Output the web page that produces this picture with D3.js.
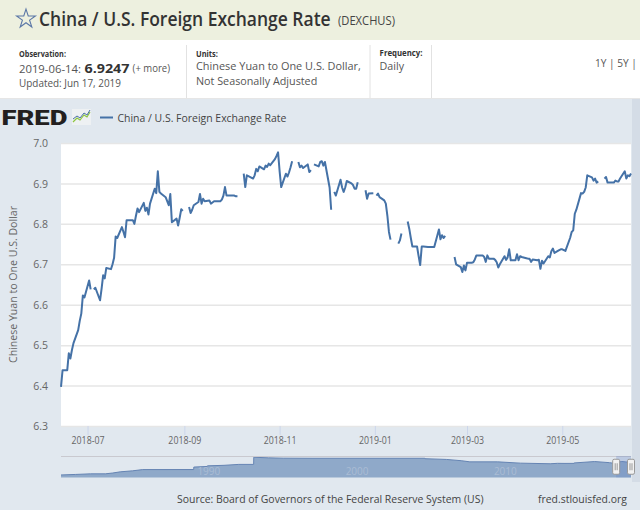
<!DOCTYPE html>
<html>
<head>
<meta charset="utf-8">
<script src="https://cdn.jsdelivr.net/npm/d3@7"></script>
<style>
  body { margin: 0; background: #fff; }
  svg { display: block; font-family: "Open Sans", sans-serif; }
</style>
</head>
<body>
<svg id="chart" width="640" height="510"></svg>
<script>
const obsDates = [
  '2018-06-14','2018-06-15','2018-06-18','2018-06-19','2018-06-20','2018-06-21','2018-06-22','2018-06-25','2018-06-26','2018-06-27','2018-06-28','2018-06-29',
  '2018-07-02','2018-07-03','2018-07-04','2018-07-05','2018-07-06','2018-07-09','2018-07-10','2018-07-11','2018-07-12','2018-07-13','2018-07-16','2018-07-17',
  '2018-07-18','2018-07-19','2018-07-20','2018-07-23','2018-07-24','2018-07-25','2018-07-26','2018-07-27','2018-07-30','2018-07-31',
  '2018-08-01','2018-08-02','2018-08-03','2018-08-06','2018-08-07','2018-08-08','2018-08-09','2018-08-10','2018-08-13','2018-08-14','2018-08-15','2018-08-16',
  '2018-08-17','2018-08-20','2018-08-21','2018-08-22','2018-08-23','2018-08-24','2018-08-27','2018-08-28','2018-08-29','2018-08-30','2018-08-31',
  '2018-09-03','2018-09-04','2018-09-05','2018-09-06','2018-09-07','2018-09-10','2018-09-11','2018-09-12','2018-09-13','2018-09-14','2018-09-17','2018-09-18',
  '2018-09-19','2018-09-20','2018-09-21','2018-09-24','2018-09-25','2018-09-26','2018-09-27','2018-09-28',
  '2018-10-01','2018-10-02','2018-10-03','2018-10-04','2018-10-05','2018-10-08','2018-10-09','2018-10-10','2018-10-11','2018-10-12','2018-10-15','2018-10-16',
  '2018-10-17','2018-10-18','2018-10-19','2018-10-22','2018-10-23','2018-10-24','2018-10-25','2018-10-26','2018-10-29','2018-10-30','2018-10-31',
  '2018-11-01','2018-11-02','2018-11-05','2018-11-06','2018-11-07','2018-11-08','2018-11-09','2018-11-12','2018-11-13','2018-11-14','2018-11-15','2018-11-16',
  '2018-11-19','2018-11-20','2018-11-21','2018-11-22','2018-11-23','2018-11-26','2018-11-27','2018-11-28','2018-11-29','2018-11-30',
  '2018-12-03','2018-12-04','2018-12-05','2018-12-06','2018-12-07','2018-12-10','2018-12-11','2018-12-12','2018-12-13','2018-12-14','2018-12-17','2018-12-18',
  '2018-12-19','2018-12-20','2018-12-21','2018-12-24','2018-12-26','2018-12-27','2018-12-28','2018-12-31',
  '2019-01-01','2019-01-02','2019-01-03','2019-01-04','2019-01-07','2019-01-08','2019-01-09','2019-01-10','2019-01-11','2019-01-14','2019-01-16','2019-01-17',
  '2019-01-18','2019-01-21','2019-01-22','2019-01-23','2019-01-24','2019-01-25','2019-01-28','2019-01-29','2019-01-30','2019-01-31',
  '2019-02-01','2019-02-04','2019-02-05','2019-02-06','2019-02-07','2019-02-08','2019-02-11','2019-02-12','2019-02-13','2019-02-14','2019-02-15','2019-02-18',
  '2019-02-21','2019-02-22','2019-02-25','2019-02-26','2019-02-27','2019-02-28',
  '2019-03-01','2019-03-04','2019-03-05','2019-03-06','2019-03-07','2019-03-08','2019-03-11','2019-03-12','2019-03-13','2019-03-14','2019-03-15','2019-03-18',
  '2019-03-19','2019-03-20','2019-03-21','2019-03-22','2019-03-25','2019-03-26','2019-03-27','2019-03-28','2019-03-29',
  '2019-04-01','2019-04-02','2019-04-03','2019-04-04','2019-04-05','2019-04-08','2019-04-09','2019-04-10','2019-04-11','2019-04-12','2019-04-15','2019-04-16',
  '2019-04-17','2019-04-18','2019-04-19','2019-04-22','2019-04-23','2019-04-24','2019-04-25','2019-04-26','2019-04-29','2019-04-30',
  '2019-05-01','2019-05-02','2019-05-03','2019-05-06','2019-05-07','2019-05-08','2019-05-09','2019-05-10','2019-05-13','2019-05-14','2019-05-15','2019-05-16',
  '2019-05-17','2019-05-20','2019-05-21','2019-05-22','2019-05-23','2019-05-24','2019-05-27','2019-05-28','2019-05-29','2019-05-30','2019-05-31',
  '2019-06-03','2019-06-04','2019-06-05','2019-06-06','2019-06-07','2019-06-10','2019-06-11','2019-06-12','2019-06-13','2019-06-14'
];
const obsRates = [
  6.397,6.438,6.438,6.480,6.467,6.488,6.505,6.537,6.560,6.578,6.623,6.618,
  6.660,6.638,null,6.638,6.642,6.611,6.640,6.673,6.665,6.691,6.688,6.700,
  6.716,6.769,6.765,6.792,6.780,6.767,6.809,6.809,6.809,6.800,
  6.820,6.838,6.829,6.852,6.832,6.840,6.823,6.850,6.887,6.876,6.930,6.879,
  6.875,6.866,6.856,6.846,6.874,6.804,6.813,6.796,6.815,6.836,6.832,
  null,6.842,6.827,6.835,6.846,6.854,6.874,6.850,6.862,6.856,6.858,6.850,
  6.853,6.856,6.856,6.856,6.860,6.870,6.891,6.870,
  6.870,6.870,6.870,6.868,6.868,null,6.924,6.891,6.920,6.918,6.912,6.920,
  6.936,6.930,6.942,6.935,6.944,6.941,6.949,6.945,6.960,6.968,6.977,
  6.930,6.891,6.924,6.917,6.927,6.940,6.955,null,6.953,6.940,6.944,6.938,
  6.947,6.928,6.933,null,6.947,6.942,6.953,6.955,6.944,6.953,
  6.890,6.835,null,6.879,6.870,6.909,6.890,6.879,6.890,6.906,6.900,6.896,
  6.887,6.887,6.903,null,6.883,6.862,6.875,6.876,
  null,6.870,6.875,6.866,6.858,6.850,6.820,6.780,6.761,null,6.751,6.759,
  6.776,null,6.806,6.788,6.765,6.744,6.744,6.720,6.698,6.744,
  6.744,6.743,6.743,6.743,6.743,6.743,6.786,6.762,6.772,6.765,6.770,null,
  6.718,6.700,6.693,6.681,6.697,6.685,
  6.704,6.704,6.705,6.712,6.722,6.722,6.722,6.718,6.706,6.722,6.714,6.714,
  6.711,6.705,6.692,6.700,6.720,6.711,6.717,6.737,6.710,
  6.710,6.725,6.710,6.720,6.718,6.715,6.714,6.714,6.706,6.712,6.710,6.711,
  6.689,6.709,6.702,6.720,6.717,6.732,6.739,6.728,6.735,6.737,
  6.737,6.735,6.733,6.765,6.780,6.784,6.825,6.835,6.876,6.875,6.879,6.890,
  6.920,6.915,6.907,6.912,6.902,6.905,null,6.912,6.916,6.902,6.902,
  6.902,6.907,6.905,6.905,6.912,6.930,6.912,6.920,6.918,6.9247
];

const yTicks = [6.3, 6.4, 6.5, 6.6, 6.7, 6.8, 6.9, 7.0];
const xTickLabels = ['2018-07', '2018-09', '2018-11', '2019-01', '2019-03', '2019-05'];

// Full-history series shown in the navigator strip
const navDates = [
  '1981-01-02','1981-12-31','1982-12-31','1983-12-30','1984-06-29','1984-12-31','1985-10-31','1986-07-07','1989-12-15','1989-12-18',
  '1990-11-16','1990-11-19','1991-12-31','1992-12-31','1993-12-31','1994-01-03','1994-12-30','1995-12-29','1997-12-31','2005-07-20',
  '2005-07-21','2006-12-29','2007-12-31','2008-07-31','2010-06-18','2011-12-30','2013-12-31','2014-06-30','2014-12-31','2015-08-10',
  '2015-08-12','2016-01-29','2016-12-30','2017-12-29','2018-03-30','2018-06-29','2018-10-31','2019-03-29','2019-06-14'
];
const navRates = [
  1.53,1.74,1.98,1.98,2.32,2.79,3.20,3.70,3.72,4.72,
  4.97,5.22,5.43,5.80,5.80,8.70,8.45,8.32,8.28,8.28,
  8.11,7.81,7.30,6.83,6.83,6.31,6.06,6.23,6.20,6.21,
  6.39,6.58,6.95,6.51,6.29,6.62,6.97,6.71,6.92
];
const navLabels = ['1990', '2000', '2010'];

const parse = d3.timeParse('%Y-%m-%d');
const svg = d3.select('#chart');

// text helper; when a width is given the glyphs are squeezed to it horizontally
function label(parent, str, x, y, o = {}) {
  const t = parent.append('text')
    .attr('x', x).attr('y', y)
    .attr('dominant-baseline', 'central')
    .attr('font-size', o.size || 11)
    .attr('fill', o.color || '#555')
    .text(str);
  if (o.weight) t.attr('font-weight', o.weight);
  if (o.family) t.attr('font-family', o.family);
  if (o.width) {
    const len = t.node().getComputedTextLength();
    t.attr('x', 0).attr('y', 0)
      .attr('transform', `translate(${x},${y}) scale(${o.width / len},1)`);
  }
  return t;
}

// ---- page header ----
svg.append('rect').attr('width', 640).attr('height', 40).attr('fill', '#edf0df');
svg.append('rect').attr('y', 40).attr('width', 640).attr('height', 59).attr('fill', '#fff');
svg.append('path')
  .attr('transform', 'translate(26,19)')
  .attr('d', d3.symbol(d3.symbolStar, 110)())
  .attr('fill', 'none').attr('stroke', '#5a76a6').attr('stroke-width', 1.1);
label(svg, 'China / U.S. Foreign Exchange Rate', 39, 18.5, { size: 20, weight: 600, color: '#333', width: 292 });
label(svg, '(DEXCHUS)', 338, 20.5, { size: 12, color: '#444', width: 57 });

// observation / units / frequency strip
label(svg, 'Observation:', 19, 52.7, { size: 9, weight: 700, color: '#333', width: 47 });
label(svg, '2019-06-14:', 19, 68.3, { size: 11, color: '#555', width: 62 });
label(svg, '6.9247', 84.5, 68, { size: 13, weight: 700, color: '#333', width: 45 });
label(svg, '(+ more)', 132.6, 68.3, { size: 10, color: '#555', width: 37.5 });
label(svg, 'Updated: Jun 17, 2019', 19, 82.5, { size: 10.5, color: '#555', width: 102 });
label(svg, 'Units:', 196, 52.7, { size: 9, weight: 700, color: '#333', width: 22 });
label(svg, 'Chinese Yuan to One U.S. Dollar,', 196, 65.7, { size: 11.5, color: '#555', width: 165 });
label(svg, 'Not Seasonally Adjusted', 196, 80, { size: 11.5, color: '#555', width: 121.5 });
label(svg, 'Frequency:', 379.6, 52.7, { size: 9, weight: 700, color: '#333', width: 43 });
label(svg, 'Daily', 379.6, 65.7, { size: 11.5, color: '#555', width: 24.5 });
label(svg, '1Y | 5Y |', 595, 62.5, { size: 11.5, color: '#555', width: 42 });
[186.5, 370, 431.5].forEach(x => {
  svg.append('line').attr('x1', x).attr('x2', x).attr('y1', 45).attr('y2', 98)
    .attr('stroke', '#e2e2e2');
});
svg.append('line').attr('x1', 0).attr('x2', 640).attr('y1', 98.5).attr('y2', 98.5).attr('stroke', '#e6e6e6');

// ---- chart panel ----
svg.append('rect').attr('y', 99).attr('width', 640).attr('height', 411).attr('fill', '#e1e8ef');
svg.append('rect').attr('x', 632).attr('y', 99).attr('width', 8).attr('height', 383).attr('fill', '#d4dce6');

// FRED logo
label(svg, 'FRED', 1.5, 117.5, { size: 21, weight: 900, color: '#231f20', family: 'Roboto, sans-serif', width: 66 });
const logo = svg.append('g').attr('transform', 'translate(72,109)');
logo.append('rect').attr('width', 19).attr('height', 16).attr('fill', '#eef1f3');
logo.append('polyline').attr('points', '1,13 5,9 8,11 12,6 15,8 18,3')
  .attr('fill', 'none').attr('stroke', '#8dc63f').attr('stroke-width', 1.2);
logo.append('polyline').attr('points', '1,10 5,7 8,9 12,4 15,6 18,1')
  .attr('fill', 'none').attr('stroke', '#4a6fa5').attr('stroke-width', 1);

// legend
svg.append('line').attr('x1', 100).attr('x2', 113).attr('y1', 117.5).attr('y2', 117.5)
  .attr('stroke', '#4572a7').attr('stroke-width', 2);
label(svg, 'China / U.S. Foreign Exchange Rate', 117.5, 117.5, { size: 11, color: '#444', width: 169 });

// plot area
const plot = { left: 61, right: 631, top: 143, bottom: 426 };
svg.append('rect')
  .attr('x', plot.left).attr('y', plot.top)
  .attr('width', plot.right - plot.left).attr('height', plot.bottom - plot.top)
  .attr('fill', '#fff');

const x = d3.scaleTime()
  .domain([parse('2018-06-14'), parse('2019-06-14')])
  .range([plot.left, plot.right]);
const y = d3.scaleLinear().domain([6.3, 7.0]).range([plot.bottom, plot.top]);

const yAxis = svg.append('g')
  .attr('transform', `translate(${plot.left},0)`)
  .call(d3.axisLeft(y).tickValues(yTicks).tickFormat(d3.format('.1f'))
    .tickSize(-(plot.right - plot.left)).tickPadding(13));
yAxis.select('.domain').remove();
yAxis.selectAll('line').attr('stroke', '#e6e6e6').attr('stroke-width', 1.5);
yAxis.selectAll('text').attr('font-family', '"Open Sans", sans-serif')
  .attr('font-size', 10.5).attr('fill', '#666').attr('dy', '0.35em');

const xAxis = svg.append('g')
  .attr('transform', `translate(0,${plot.bottom})`)
  .call(d3.axisBottom(x).tickValues(xTickLabels.map(s => parse(s + '-01')))
    .tickFormat((d, i) => xTickLabels[i]).tickSize(9).tickPadding(2));
xAxis.select('.domain').remove();
xAxis.selectAll('line').attr('stroke', '#ccd6eb');
xAxis.selectAll('text').attr('font-family', '"Open Sans", sans-serif')
  .attr('font-size', 10).attr('fill', '#666')
  .attr('textLength', 33).attr('lengthAdjust', 'spacingAndGlyphs');

// y axis title
svg.append('text')
  .attr('transform', `translate(12.5,${(plot.top + plot.bottom) / 2}) rotate(-90)`)
  .attr('text-anchor', 'middle').attr('dominant-baseline', 'central')
  .attr('font-size', 10.5).attr('fill', '#666')
  .attr('textLength', 157).attr('lengthAdjust', 'spacingAndGlyphs')
  .text('Chinese Yuan to One U.S. Dollar');

// the series
const points = obsDates.map((d, i) => ({ date: parse(d), value: obsRates[i] }));
const line = d3.line()
  .defined(d => d.value != null)
  .x(d => x(d.date))
  .y(d => y(d.value));
svg.append('path')
  .datum(points)
  .attr('d', line)
  .attr('fill', 'none')
  .attr('stroke', '#4572a7')
  .attr('stroke-width', 2)
  .attr('stroke-linejoin', 'round');

// ---- navigator ----
const nav = { top: 456, bottom: 477.5 };
const nx = d3.scaleTime()
  .domain([parse('1981-01-02'), parse('2019-06-14')])
  .range([plot.left, plot.right]);
const ny = d3.scaleLinear().domain([0.5, 9.2]).range([nav.bottom, nav.top]);
const navPoints = navDates.map((d, i) => ({ date: parse(d), value: navRates[i] }));

svg.append('path')
  .datum(navPoints)
  .attr('d', d3.area().x(d => nx(d.date)).y0(nav.bottom).y1(d => ny(d.value)))
  .attr('fill', '#8fa9c9');
svg.append('path')
  .datum(navPoints)
  .attr('d', d3.line().x(d => nx(d.date)).y(d => ny(d.value)))
  .attr('fill', 'none').attr('stroke', '#6584b3').attr('stroke-width', 1);
svg.append('line')
  .attr('x1', plot.left).attr('x2', plot.right).attr('y1', nav.top + 0.5).attr('y2', nav.top + 0.5)
  .attr('stroke', '#c9c9cf');

navLabels.forEach(s => {
  label(svg, s, nx(parse(s + '-01-01')) + 3, 471, { size: 10, color: '#aabcd4' });
});

// selected range mask and handles
const selX0 = nx(x.domain()[0]);
const selX1 = nx(x.domain()[1]);
svg.append('rect')
  .attr('x', selX0).attr('y', nav.top).attr('width', selX1 - selX0).attr('height', nav.bottom - nav.top)
  .attr('fill', 'rgba(102,133,194,0.3)');
[selX0, selX1].forEach(hx => {
  const h = svg.append('g').attr('transform', `translate(${hx - 3.5},${(nav.top + nav.bottom) / 2 - 7.5})`);
  h.append('rect').attr('width', 7).attr('height', 15).attr('rx', 1.5)
    .attr('fill', '#f2f2f2').attr('stroke', '#999');
  h.append('line').attr('x1', 2.5).attr('x2', 2.5).attr('y1', 4).attr('y2', 11).attr('stroke', '#999');
  h.append('line').attr('x1', 4.5).attr('x2', 4.5).attr('y1', 4).attr('y2', 11).attr('stroke', '#999');
});

// source line
label(svg, 'Source: Board of Governors of the Federal Reserve System (US)', 177, 499, { size: 11, color: '#444', width: 307 });
label(svg, 'fred.stlouisfed.org', 538, 499, { size: 11, color: '#444', width: 89 });
</script>
</body>
</html>
